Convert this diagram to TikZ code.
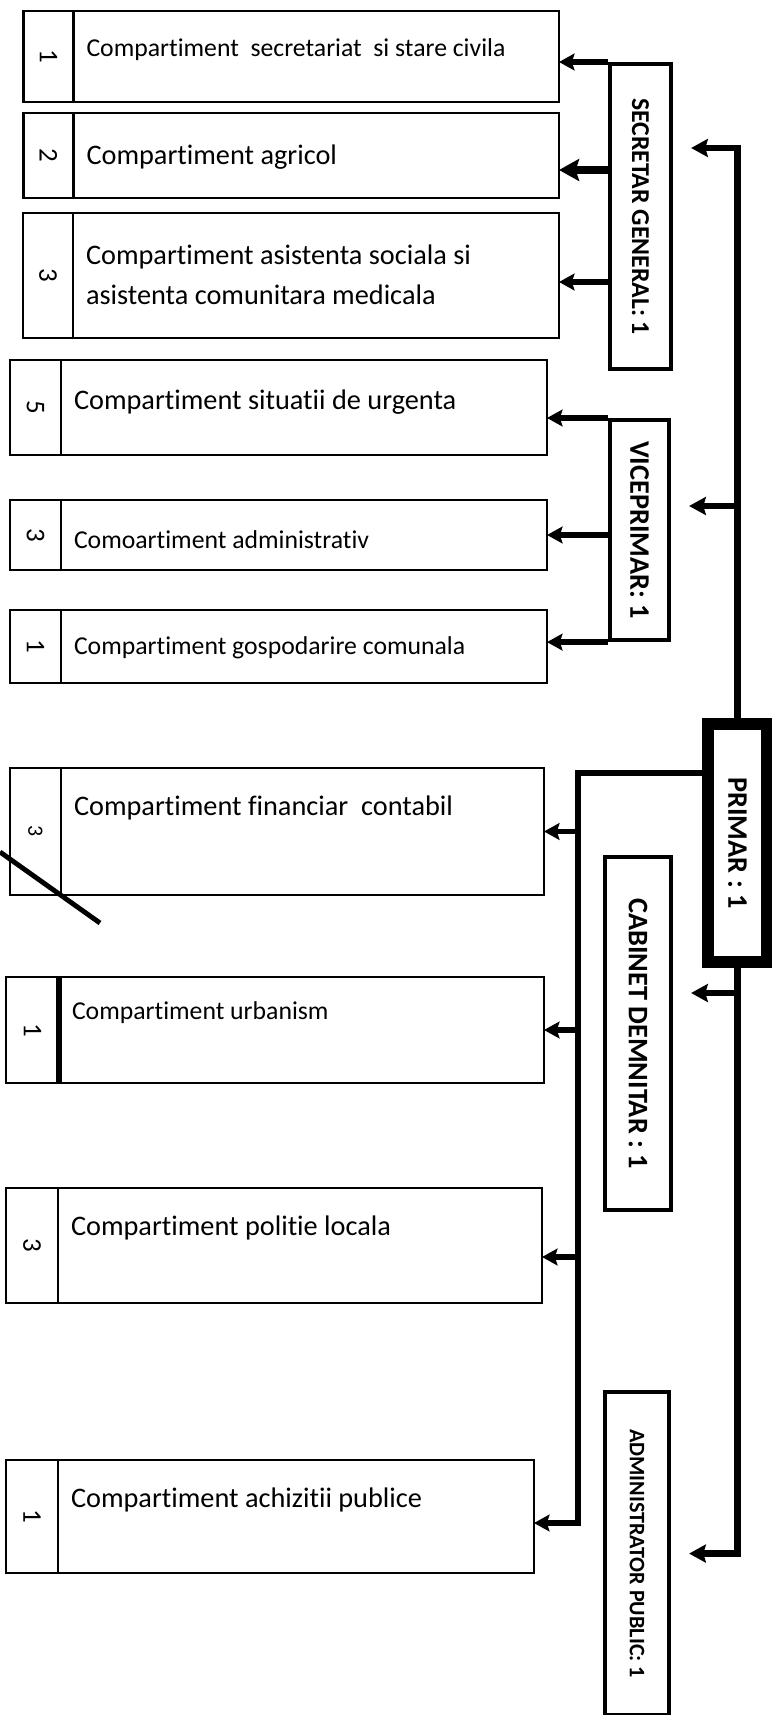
\documentclass[tikz,border=0pt]{standalone}
\usepackage{fontspec}
\setmainfont[Ligatures={NoCommon,NoRequired,NoContextual}]{Carlito}
\usetikzlibrary{arrows.meta,calc}

\def \px {0.3887pt}

\tikzset{
  unitbox/.style={draw, line width=1.1pt, inner sep=0pt, outer sep=0pt, anchor=north west},
  numbox/.style={draw, line width=0.8pt, inner sep=0pt, outer sep=0pt, anchor=north east, font=\fontsize{10.5}{12}\selectfont},
  unittext/.style={anchor=west, inner sep=0pt, align=left, font=\fontsize{11}{15.5}\selectfont},
  smalltext/.style={unittext, font=\fontsize{10}{12}\selectfont},
  rolebox/.style={draw, line width=1.6pt, inner sep=0pt, anchor=north west, font=\bfseries\fontsize{11}{13}\selectfont},
  conn/.style={line width=2.1pt, -{Stealth[length=6pt,width=6.5pt,inset=1pt]}},
  bigconn/.style={line width=3pt, -{Stealth[length=7.8pt,width=8.5pt,inset=1.3pt]}},
  trunk/.style={line width=2.7pt, -{Stealth[length=6.5pt,width=7pt,inset=1pt]}, shorten >=7pt},
}

\begin{document}
\begin{tikzpicture}[x=\px, y=-\px]
  \useasboundingbox (0,0) rectangle (771,1715);

  \node[rolebox, font=\bfseries\fontsize{10}{12}\selectfont, minimum width=61*\px, minimum height=305*\px] (secretar) at (608,62) {\rotatebox{-90}{SECRETAR GENERAL: 1}};
  \node[rolebox, minimum width=59*\px, minimum height=220*\px] (viceprimar) at (608,418) {\rotatebox{-90}{VICEPRIMAR: 1}};
  \node[rolebox, line width=4.7pt, minimum width=59*\px, minimum height=238*\px] (primar) at (702,718) {\rotatebox{-90}{PRIMAR : 1}};
  \node[rolebox, minimum width=66*\px, minimum height=353*\px] (cabinet) at (603,855) {\rotatebox{-90}{CABINET DEMNITAR : 1}};
  \node[rolebox, font=\bfseries\fontsize{8.6}{10}\selectfont, minimum width=64*\px, minimum height=323*\px] (administrator) at (603,1390) {\rotatebox{-90}{ADMINISTRATOR PUBLIC: 1}};

  \node[unitbox, minimum width=485.5*\px, minimum height=91*\px] (secretariat) at (73.5,11) {};
  \node[numbox, minimum width=50*\px, minimum height=91*\px] (secretariatN) at (secretariat.north west) {\rotatebox{-90}{1}};
  \node[smalltext] at ($(secretariat.north west)+(12.5,39)$) {Compartiment\ \ secretariat\ \ si stare civila};

  \node[unitbox, minimum width=485.5*\px, minimum height=85*\px] (agricol) at (73.5,113) {};
  \node[numbox, minimum width=50*\px, minimum height=85*\px] (agricolN) at (agricol.north west) {\rotatebox{-90}{2}};
  \node[unittext] at ($(agricol.north west)+(12.5,44)$) {Compartiment agricol};

  \node[unitbox, minimum width=486*\px, minimum height=125*\px] (asistenta) at (73,213) {};
  \node[numbox, minimum width=50*\px, minimum height=125*\px] (asistentaN) at (asistenta.north west) {\rotatebox{-90}{3}};
  \node[unittext] at ($(asistenta.north west)+(12.5,62)$) {Compartiment asistenta sociala si\\asistenta comunitara medicala};

  \node[unitbox, minimum width=486*\px, minimum height=95*\px] (urgenta) at (61,360) {};
  \node[numbox, minimum width=51*\px, minimum height=95*\px] (urgentaN) at (urgenta.north west) {\rotatebox{-90}{5}};
  \node[unittext] at ($(urgenta.north west)+(12.5,42)$) {Compartiment situatii de urgenta};

  \node[unitbox, minimum width=486*\px, minimum height=70*\px] (administrativ) at (61,500) {};
  \node[numbox, minimum width=51*\px, minimum height=70*\px] (administrativN) at (administrativ.north west) {\rotatebox{-90}{3}};
  \node[smalltext] at ($(administrativ.north west)+(12.5,40)$) {Comoartiment administrativ};

  \node[unitbox, minimum width=486*\px, minimum height=73*\px] (gospodarire) at (61,610) {};
  \node[numbox, minimum width=51*\px, minimum height=73*\px] (gospodarireN) at (gospodarire.north west) {\rotatebox{-90}{1}};
  \node[smalltext] at ($(gospodarire.north west)+(12.5,38)$) {Compartiment gospodarire comunala};

  \node[unitbox, minimum width=483*\px, minimum height=127*\px] (financiar) at (61,768) {};
  \node[numbox, font=\fontsize{8.5}{10}\selectfont, minimum width=51*\px, minimum height=127*\px] (financiarN) at (financiar.north west) {\rotatebox{-90}{3}};
  \node[unittext] at ($(financiar.north west)+(12.5,40)$) {Compartiment financiar\ \ contabil};
  \draw[line width=1.9pt] ($(financiarN.south east)+(-61,-43)$) -- ++(100,71);

  \node[unitbox, minimum width=485*\px, minimum height=106*\px] (urbanism) at (59,977) {};
  \node[numbox, minimum width=53*\px, minimum height=106*\px] (urbanismN) at (urbanism.north west) {\rotatebox{-90}{1}};
  \draw[line width=2.6pt] (urbanism.north west) -- (urbanism.south west);
  \node[smalltext] at ($(urbanism.north west)+(12.5,36)$) {Compartiment urbanism};

  \node[unitbox, minimum width=484*\px, minimum height=115*\px] (politie) at (58,1188) {};
  \node[numbox, minimum width=52*\px, minimum height=115*\px] (politieN) at (politie.north west) {\rotatebox{-90}{3}};
  \node[unittext] at ($(politie.north west)+(12.5,40)$) {Compartiment politie locala};

  \node[unitbox, minimum width=476*\px, minimum height=113*\px] (achizitii) at (58,1460) {};
  \node[numbox, minimum width=52*\px, minimum height=113*\px] (achizitiiN) at (achizitii.north west) {\rotatebox{-90}{1}};
  \node[unittext] at ($(achizitii.north west)+(12.5,40)$) {Compartiment achizitii publice};

  \draw[conn] (secretar.north west) -- (secretariat.east |- secretar.north west);
  \draw[bigconn] (secretar.west |- 0,170) -- (agricol.east |- 0,170);
  \draw[conn] (secretar.west |- 0,282) -- (asistenta.east |- 0,282);

  \draw[conn] (viceprimar.north west) -- (urgenta.east |- viceprimar.north west);
  \draw[conn] (viceprimar.west |- administrativ.east) -- (administrativ.east);
  \draw[conn] (viceprimar.south west) -- (gospodarire.east |- viceprimar.south west);

  \draw[trunk] (primar.north) |- (secretar.east |- 0,148);
  \draw[trunk] (primar.north |- 0,506) -- (viceprimar.east |- 0,506);
  \draw[trunk] (primar.south |- 0,993) -- (cabinet.east |- 0,993);
  \draw[trunk] (primar.south) |- (administrator.east);

  \coordinate (bus) at (578,773);
  \draw[conn] (primar.west |- bus) -- (bus) |- (achizitii.east |- 0,1523);
  \draw[conn] (bus |- financiar.east) -- (financiar.east);
  \draw[conn] (bus |- urbanism.east) -- (urbanism.east);
  \draw[conn] (bus |- 0,1257) -- (politie.east |- 0,1257);
\end{tikzpicture}
\end{document}
